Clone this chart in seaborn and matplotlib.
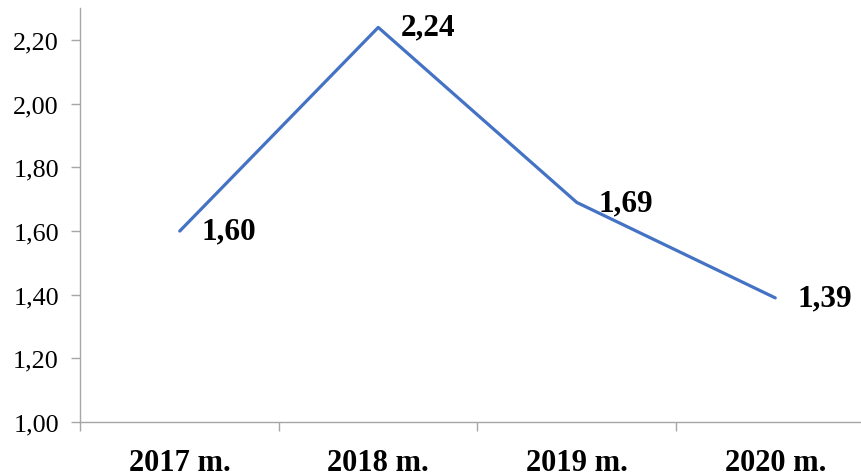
import matplotlib
matplotlib.use("Agg")
import matplotlib.pyplot as plt
import seaborn as sns
import pandas as pd
import numpy as np

years = ["2017 m.", "2018 m.", "2019 m.", "2020 m."]
values = [1.60, 2.24, 1.69, 1.39]
value_labels = ["1,60", "2,24", "1,69", "1,39"]
y_ticks = [1.00, 1.20, 1.40, 1.60, 1.80, 2.00, 2.20]
y_tick_labels = ["1,00", "1,20", "1,40", "1,60", "1,80", "2,00", "2,20"]

sns.set_theme(style="white")
plt.rcParams['font.family'] = ['Liberation Serif', 'DejaVu Serif']

W, H = 862, 477
fig = plt.figure(figsize=(W / 100, H / 100), dpi=100)
left, right, top, bottom = 80.5, 874.5, 9.3, 423
ax = fig.add_axes([left / W, (H - bottom) / H, (right - left) / W, (bottom - top) / H])

df = pd.DataFrame({"x": np.arange(len(years)), "y": values})
sns.lineplot(data=df, x="x", y="y", ax=ax, color="#4472C4", linewidth=2.3)

ax.set_xlim(-0.5, len(years) - 0.5)
ax.set_ylim(1.0, 2.3)
ax.set_xlabel("")
ax.set_ylabel("")

ax.set_yticks(y_ticks)
ax.set_yticklabels(y_tick_labels, fontsize=18.8, color="black")
ax.set_xticks(np.arange(len(years)))
ax.set_xticklabels(years, fontsize=22, fontweight="bold", color="black")
ax.set_xticks(np.arange(len(years) + 1) - 0.5, minor=True)

ax.tick_params(axis="y", which="major", direction="out", length=6.5, width=1, color="#A6A6A6", pad=9, left=True)
ax.tick_params(axis="x", which="major", length=0, pad=19, bottom=True)
ax.tick_params(axis="x", which="minor", direction="out", length=6.5, width=1, color="#A6A6A6", bottom=True)

for side in ["top", "right"]:
    ax.spines[side].set_visible(False)
for side in ["left", "bottom"]:
    ax.spines[side].set_color("#A6A6A6")
    ax.spines[side].set_linewidth(1.0)

for i, (v, lab) in enumerate(zip(values, value_labels)):
    ax.annotate(lab, (i, v), xytext=(16, 0), textcoords="offset points",
                ha="left", va="center", fontsize=22.5, fontweight="bold", color="black")

fig.savefig("out.png", dpi=100)
